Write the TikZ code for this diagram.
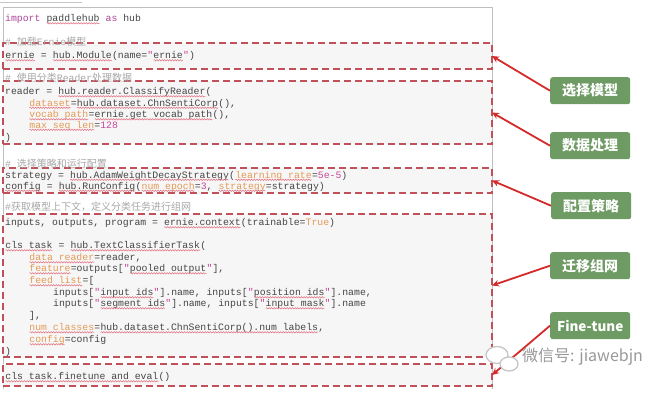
\documentclass[tikz,border=0pt]{standalone}
\usepackage{fontspec}
\setmonofont{Liberation Mono}
\newfontfamily\cjk{Noto Sans CJK SC}
\usetikzlibrary{arrows.meta,decorations.pathmorphing}
\definecolor{codegray}{HTML}{454545}
\definecolor{kwc}{HTML}{B0469A}
\definecolor{argc}{HTML}{E29A55}
\definecolor{numc}{HTML}{C8489A}
\definecolor{cmtc}{HTML}{A8A8A8}
\definecolor{boxred}{HTML}{C0505A}
\definecolor{arrred}{HTML}{D42A2A}
\definecolor{lblgreen}{HTML}{6E9A63}
\definecolor{boxfill}{HTML}{F7F6F6}
\definecolor{wavec}{HTML}{E27080}
\newcommand\wavy[2]{\tikz[baseline=(w.base),x=1pt,y=1pt]{\node[inner sep=0pt,outer sep=0pt,anchor=base west,text=#1] (w) at (0,0) {#2};\draw[wavec,line width=0.5pt,decorate,decoration={snake,amplitude=0.7pt,segment length=2.6pt}] ([yshift=-1.8pt]w.base west) -- ([yshift=-1.8pt]w.base east);}}
\newcommand\ckw[1]{\textcolor{kwc}{#1}}
\newcommand\carg[1]{\wavy{argc}{#1}}
\newcommand\cnum[1]{\textcolor{numc}{#1}}
\newcommand\cq{\textcolor{numc}{"}}
\newcommand\sq[1]{\wavy{codegray}{#1}}
\newcommand\zh[1]{{\cjk\fontsize{10}{11}\selectfont #1}}
\tikzset{
  code/.style={font=\ttfamily\fontsize{9.8}{11}\selectfont, text=codegray, inner sep=0pt, anchor=base west},
  cmt/.style={font=\ttfamily\fontsize{9.8}{11}\selectfont, text=cmtc, inner sep=0pt, anchor=base west},
  dbox/.style={draw=boxred, fill=boxfill, dashed, dash pattern=on 7pt off 4pt, line width=1.1pt, inner sep=0pt, outer sep=0pt, anchor=north west, minimum width=489pt},
  lbl/.style={fill=lblgreen, rounded corners=2.5pt, text=white, font=\cjk\bfseries\fontsize{14}{16}\selectfont, minimum width=80pt, minimum height=27pt, inner sep=0pt, anchor=north west},
  arr/.style={draw=arrred, line width=1.8pt, -{Stealth[length=7pt,width=6.5pt]}}
}
\begin{document}
\begin{tikzpicture}[x=1pt,y=-1pt]
\useasboundingbox (0,0) rectangle (663,404);
\fill[white] (0,0) rectangle (663,404);
% frame
\draw[gray!45, line width=0.6pt] (0,2.5) -- (82,2.5);
\draw[gray!50, line width=0.8pt] (3,389) -- (3,7) -- (492,7) -- (492,389);
% dashed boxes
\node[dbox, minimum height=26pt] (b1) at (3,43) {};
\node[dbox, minimum height=63pt] (b2) at (3,81) {};
\node[dbox, minimum height=25pt] (b3) at (3,168) {};
\node[dbox, minimum height=143pt] (b4) at (3,214) {};
\node[dbox, minimum height=22pt] (b5) at (3,364) {};
% code
\node[code] (l1) at (5,21.5) {\ckw{import} \sq{paddlehub} \ckw{as} hub};
\node[cmt] (c1) at (5,45.5) {\# \zh{加载}Ernie\zh{模型}};
\node[code] (l2) at (5,58.5) {\sq{ernie} = \sq{hub.Module}(name=\cq\sq{ernie}\cq)};
\node[cmt] (c2) at (5,81.5) {\# \zh{使用分类}Reader\zh{处理数据}};
\node[code] (l3) at (5,94.5) {reader = \sq{hub.reader.ClassifyReader}(};
\node[code] (l4) at (29,106) {\carg{dataset}=\sq{hub.dataset.ChnSentiCorp}(),};
\node[code] (l5) at (29,117.5) {\carg{vocab path}=\sq{ernie.get vocab path}(),};
\node[code] (l6) at (29,128) {\carg{max seq len}=\cnum{128}};
\node[code] (l7) at (5,140) {)};
\node[cmt] (c3) at (5,167) {\# \zh{选择策略和运行配置}};
\node[code] (l8) at (5,178) {strategy = \sq{hub.AdamWeightDecayStrategy}(\carg{learning rate}=\cnum{5e-5})};
\node[code] (l9) at (5,189) {\sq{config} = \sq{hub.RunConfig}(\carg{num epoch}=\cnum{3}, \carg{strategy}=strategy)};
\node[cmt] (c4) at (5,210.5) {\#\zh{获取模型上下文，定义分类任务进行组网}};
\node[code] (l10) at (5,225.5) {inputs, outputs, program = \sq{ernie.context}(trainable=\textcolor{argc}{True})};
\node[code] (l11) at (5,248.5) {\sq{cls task} = \sq{hub.TextClassifierTask}(};
\node[code] (l12) at (29,260.5) {\carg{data reader}=reader,};
\node[code] (l13) at (29,271.5) {\carg{feature}=outputs[\cq\sq{pooled output}\cq],};
\node[code] (l14) at (29,283.5) {\carg{feed list}=[};
\node[code] (l15) at (53,295.5) {inputs[\cq\sq{input ids}\cq].name, inputs[\cq\sq{position ids}\cq].name,};
\node[code] (l16) at (53,306.5) {inputs[\cq\sq{segment ids}\cq].name, inputs[\cq\sq{input mask}\cq].name};
\node[code] (l17) at (29,318.5) {],};
\node[code] (l18) at (29,330.5) {\carg{num classes}=\sq{hub.dataset.ChnSentiCorp().num labels},};
\node[code] (l19) at (29,342.5) {\carg{config}=config};
\node[code] (l20) at (5,354.5) {)};
\node[code] (l21) at (5,379.5) {\sq{cls task.finetune and eval}()};
% labels
\node[lbl] (t1) at (550,77) {选择模型};
\node[lbl] (t2) at (550,132) {数据处理};
\node[lbl] (t3) at (551,192) {配置策略};
\node[lbl] (t4) at (550,252) {迁移组网};
\node[lbl, font=\cjk\bfseries\fontsize{13.5}{16}\selectfont] (t5) at (550,312) {Fine-tune};
% arrows
\draw[arr] (t1.west) -- (b1.east);
\draw[arr] (t2.west) -- (b2.east);
\draw[arr] (t3.west) -- (b3.east);
\draw[arr] (t4.west) -- (b4.east);
\draw[arr] (t5.west) -- (b5.east);
% watermark
\draw[gray!45, line width=1.3pt, fill=white] (497,355) ellipse [x radius=11pt, y radius=8.5pt];
\draw[gray!45, line width=1.3pt, fill=white] (509,364) ellipse [x radius=9pt, y radius=7pt];
\node[font=\cjk\fontsize{16}{18}\selectfont, text=gray!80, inner sep=0pt, anchor=west] (wm) at (522,357) {微信号: jiawebjn};
\end{tikzpicture}
\end{document}
